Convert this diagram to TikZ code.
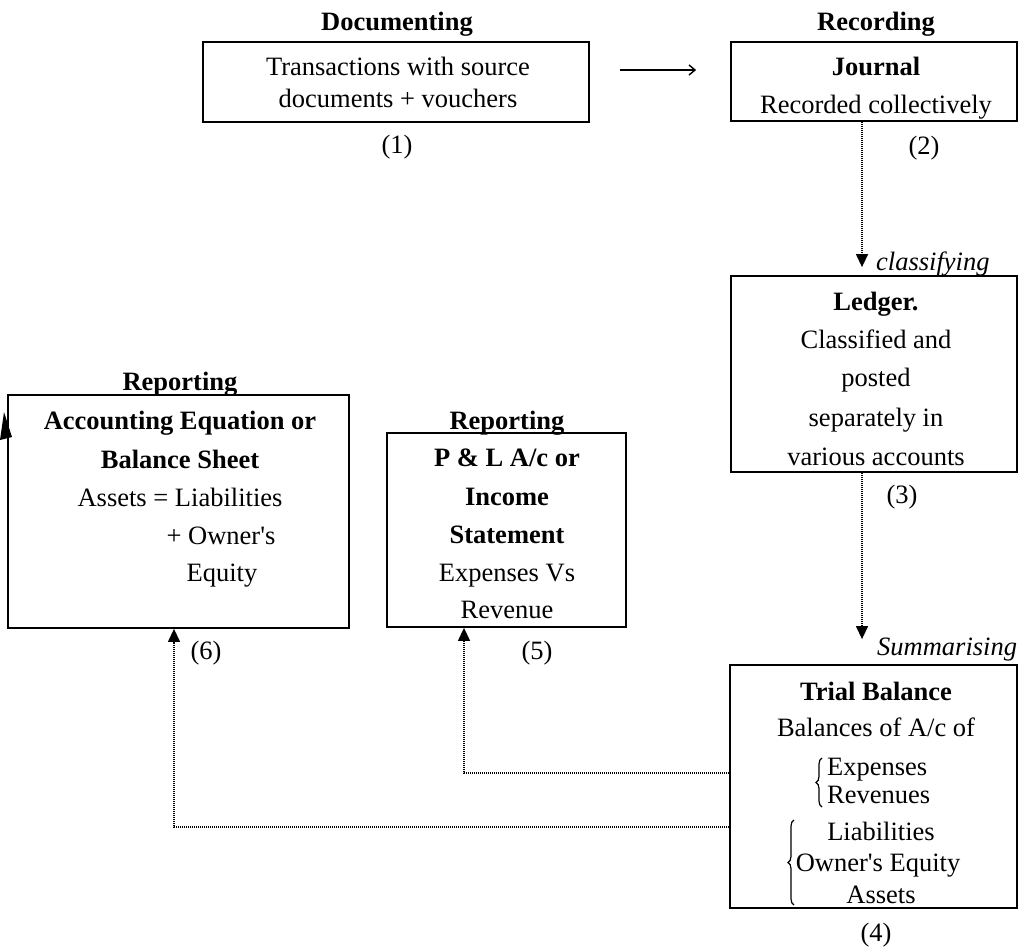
\documentclass[tikz,border=0pt]{standalone}
\usepackage{fontspec}
\setmainfont{Liberation Serif}
\usetikzlibrary{arrows.meta,decorations.pathreplacing}
\newcommand{\apo}{\textquotesingle}
\begin{document}
\begin{tikzpicture}[x=1pt,y=-1pt,
  font=\fontsize{26.5}{30}\selectfont,
  box/.style={draw,line width=1.8pt,rectangle,inner sep=0pt},
  txt/.style={inner sep=0pt,anchor=base},
  ltxt/.style={inner sep=0pt,anchor=base west},
  num/.style={inner sep=0pt,anchor=center},
  hd/.style={txt,font=\fontsize{26.5}{30}\selectfont\bfseries},
  flow/.style={line width=1.3pt,dash pattern=on 1.2pt off 0.8pt,-{Triangle[width=12pt,length=13pt]}},
  solidarrow/.style={line width=1.4pt,-{Straight Barb[length=6pt,width=10pt]}},
  bracestyle/.style={line width=1.2pt,decorate,decoration={brace,amplitude=6pt}}
]
\useasboundingbox (0,0) rectangle (1019,946);

% boxes
\node[box,minimum width=386pt,minimum height=80pt] (doc) at (396,82) {};
\node[box,minimum width=286pt,minimum height=79pt] (jour) at (874,81.5) {};
\node[box,minimum width=286pt,minimum height=196pt] (led) at (874,374) {};
\node[box,minimum width=287pt,minimum height=243pt] (tb) at (873.5,786.5) {};
\node[box,minimum width=341pt,minimum height=233pt] (rep) at (178.5,511.5) {};
\node[box,minimum width=239pt,minimum height=194pt] (pl) at (506.5,530) {};

% documenting
\node[hd] (hdoc) at (397,30) {Documenting};
\node[txt] (doc1) at (398,75) {Transactions with source};
\node[txt] (doc2) at (398,107) {documents + vouchers};
\node[num] (n1) at (397,147) {(1)};

% recording
\node[hd] (hrec) at (876,30) {Recording};
\node[hd] (jour1) at (876,75) {Journal};
\node[txt] (jour2) at (876,113) {Recorded collectively};
\node[num] (n2) at (924,148) {(2)};

% classifying / ledger
\node[ltxt,font=\fontsize{26.5}{30}\selectfont\itshape] (cls) at (876,270) {classifying};
\node[hd] (led1) at (876,310) {Ledger.};
\node[txt] (led2) at (876,348) {Classified and};
\node[txt] (led3) at (876,386) {posted};
\node[txt] (led4) at (876,426) {separately in};
\node[txt] (led5) at (876,465) {various accounts};
\node[num] (n3) at (902,497) {(3)};

% reporting: balance sheet
\node[hd] (hrep1) at (180,390) {Reporting};
\node[hd] (rep1) at (180,429) {Accounting Equation or};
\node[hd] (rep2) at (180,468) {Balance Sheet};
\node[txt] (rep3) at (180,506) {Assets = Liabilities};
\node[txt] (rep4) at (221,544) {+ Owner\apo s};
\node[txt] (rep5) at (222,581) {Equity};
\node[num] (n6) at (206,653) {(6)};

% reporting: P&L
\node[hd] (hrep2) at (507,429) {Reporting};
\node[hd] (pl1) at (507,466) {P \& L A/c or};
\node[hd] (pl2) at (507,505) {Income};
\node[hd] (pl3) at (507,543) {Statement};
\node[txt] (pl4) at (507,581) {Expenses Vs};
\node[txt] (pl5) at (507,618) {Revenue};
\node[num] (n5) at (537,653) {(5)};

% summarising / trial balance
\node[ltxt,font=\fontsize{26.5}{30}\selectfont\itshape] (sum) at (877,655) {Summarising};
\node[hd] (tb1) at (876,700) {Trial Balance};
\node[txt] (tb2) at (876,736) {Balances of A/c of};
\node[ltxt] (tb3) at (827,775) {Expenses};
\node[ltxt] (tb4) at (827,803) {Revenues};
\node[txt] (tb5) at (881,840) {Liabilities};
\node[txt] (tb6) at (878,871) {Owner\apo s Equity};
\node[txt] (tb7) at (881,903) {Assets};
\node[num] (n4) at (876,935) {(4)};

% braces
\draw[bracestyle] (822,807) -- (822,758);
\draw[bracestyle] (794,905) -- (794,820);

% connectors
\draw[solidarrow,shorten <=30pt,shorten >=34pt] ([yshift=12pt]doc.east) -- ([yshift=11.5pt]jour.west);
\draw[flow,shorten >=8pt] ([xshift=-12pt]jour.south) -- ([xshift=-12pt]led.north);
\draw[flow,shorten >=25pt] ([xshift=-12pt]led.south) -- ([xshift=-11.5pt]tb.north);
\draw[flow] ([yshift=13.5pt]tb.west) -| ([xshift=-42.5pt]pl.south);
\draw[flow] ([yshift=-40.5pt]tb.west) -| ([xshift=-4.5pt]rep.south);

% partial arrowhead at left edge
\fill (0,440) -- (12,437) -- (4,412) -- cycle;
\end{tikzpicture}
\end{document}
